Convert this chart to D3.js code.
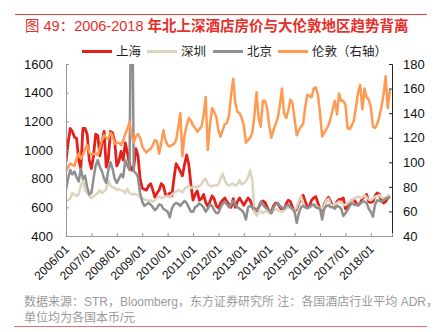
<!DOCTYPE html>
<html>
<head>
<meta charset="utf-8">
<script src="https://cdn.jsdelivr.net/npm/d3@7"></script>
<style>
  body { margin: 0; background: #fff; }
  text { font-family: "Liberation Sans", Arial, "Noto Sans CJK SC", sans-serif; }
</style>
</head>
<body>
<div id="chart"></div>
<script>
// monthly ADR, 2006/01 - 2018/10 (154 months)
var shanghai = [
  918, 1050, 1150, 1130, 1090, 1080, 930, 870, 1150, 1150, 1110, 930,
  870, 960, 1110, 1100, 960, 1050, 1130, 880, 940, 1130, 1120, 1060,
  890, 920, 990, 930, 1050, 980, 900, 860, 880, 1010, 960, 800,
  735, 725, 720, 750, 765, 720, 670, 700, 720, 765, 750, 690,
  680, 700, 680, 800, 905, 880, 850, 820, 900, 965, 900, 760,
  650, 690, 715, 650, 660, 690, 635, 605, 640, 680, 660, 610,
  595, 630, 650, 665, 640, 620, 600, 660, 600, 640, 665, 640,
  615, 640, 665, 650, 610, 575, 575, 600, 630, 645, 635, 600,
  575, 570, 610, 630, 630, 600, 585, 585, 625, 650, 640, 600,
  570, 590, 630, 660, 685, 640, 600, 610, 650, 665, 675, 630,
  590, 580, 620, 650, 670, 640, 605, 610, 640, 655, 655, 665,
  590, 600, 630, 650, 655, 630, 615, 630, 660, 680, 690, 640,
  635, 640, 680, 700, 690, 650, 630, 640, 665, 675
];
var shenzhen = [
  640, 650, 660, 700, 690, 680, 690, 750, 790, 720, 700, 680,
  665, 675, 690, 700, 720, 700, 710, 730, 790, 750, 740, 735,
  720, 725, 720, 715, 700, 730, 700, 690, 695, 690, 685, 670,
  665, 655, 650, 645, 650, 640, 650, 665, 675, 665, 670, 675,
  680, 670, 690, 700, 710, 720, 715, 705, 730, 740, 750, 735,
  740, 745, 740, 750, 760, 790, 800, 760, 750, 745, 755, 750,
  760, 800, 835, 790, 760, 750, 760, 765, 750, 760, 790, 760,
  770, 780, 810, 860, 790, 570, 540, 565, 575, 560, 570, 575,
  560, 555, 575, 590, 580, 575, 570, 580, 590, 600, 595, 585,
  580, 600, 640, 680, 630, 600, 590, 600, 610, 615, 620, 600,
  595, 590, 615, 650, 660, 620, 610, 620, 630, 640, 635, 620,
  615, 630, 640, 650, 660, 670, 675, 665, 670, 685, 670, 655,
  650, 660, 675, 680, 685, 670, 660, 670, 680, 690
];
var beijing = [
  720, 800, 860, 830, 850, 810, 780, 870, 800, 820, 740, 690,
  700, 800, 890, 930, 880, 850, 800, 770, 860, 915, 870, 800,
  770, 800, 830, 810, 930, 890, 860, 2600, 850, 840, 810, 700,
  640, 610, 620, 630, 620, 600, 580, 595, 620, 615, 590, 580,
  570, 530, 590, 620, 630, 625, 610, 630, 645, 630, 600, 570,
  570, 600, 610, 628, 615, 600, 570, 590, 620, 610, 580, 560,
  560, 600, 625, 640, 620, 600, 620, 645, 620, 600, 590, 580,
  560, 515, 600, 610, 600, 595, 580, 600, 640, 620, 600, 590,
  580, 560, 600, 620, 630, 610, 600, 590, 610, 620, 600, 590,
  570, 490, 560, 600, 610, 600, 595, 600, 615, 620, 600, 595,
  590, 515, 590, 610, 615, 600, 600, 590, 610, 605, 590, 540,
  560, 580, 610, 630, 620, 615, 620, 625, 640, 640, 630, 590,
  570, 535, 620, 650, 645, 640, 650, 660, 665, 675
];
// London, GBP, right axis
var london = [
  93, 96, 99, 98, 97, 103, 107, 103, 106, 111, 114, 108,
  106, 107, 107, 106, 112, 118, 122, 120, 119, 124, 122, 115,
  116, 116, 114, 118, 123, 127, 133, 122, 116, 121, 123, 120,
  113, 110, 108, 110, 111, 114, 118, 117, 107, 116, 126, 118,
  114, 113, 114, 115, 118, 128, 140, 105, 122, 130, 136, 134,
  130, 128, 125, 127, 129, 138, 153, 110, 130, 144, 141, 137,
  126, 121, 126, 131, 132, 138, 155, 168, 148, 141, 140, 136,
  130, 116, 118, 120, 124, 138, 157, 136, 129, 150, 150, 144,
  130, 120, 126, 131, 136, 146, 160, 140, 136, 142, 151, 148,
  135, 122, 126, 129, 131, 145, 155, 154, 153, 160, 161, 155,
  140, 121, 124, 127, 130, 136, 143, 150, 139, 156, 150, 150,
  147, 128, 127, 130, 134, 145, 157, 163, 143, 160, 153, 151,
  145, 129, 128, 131, 137, 145, 155, 170, 144, 159
];
var yearLabels = ["2006/01", "2007/01", "2008/01", "2009/01", "2010/01", "2011/01", "2012/01",
  "2013/01", "2014/01", "2015/01", "2016/01", "2017/01", "2018/01"];
var leftTicks = [400, 600, 800, 1000, 1200, 1400, 1600];
var rightTicks = [40, 60, 80, 100, 120, 140, 160, 180];

var W = 437, H = 332;
var plotL = 66, plotR = 392, plotT = 64, plotB = 236;

var svg = d3.select("#chart").append("svg")
  .attr("width", W)
  .attr("height", H);

var x = d3.scaleLinear().domain([0, 154]).range([plotL, plotR]);
var y = d3.scaleLinear().domain([400, 1600]).range([plotB, plotT]);
var y2 = d3.scaleLinear().domain([40, 180]).range([plotB, plotT]);

// title block
svg.append("line")
  .attr("x1", 15).attr("x2", 427).attr("y1", 14.5).attr("y2", 14.5)
  .attr("stroke", "#e8403a").attr("stroke-width", 1);

var title = svg.append("text")
  .attr("x", 25).attr("y", 31)
  .attr("fill", "#e5302b")
  .style("font-size", "14.5px");
title.append("tspan").text("图 49：2006-2018 ");
title.append("tspan").style("font-weight", "bold").text("年北上深酒店房价与大伦敦地区趋势背离");

// legend
var legendItems = [
  {name: "上海", color: "#e3201c", x: 82},
  {name: "深圳", color: "#ddd4bf", x: 147},
  {name: "北京", color: "#8f8f8f", x: 213},
  {name: "伦敦（右轴）", color: "#ff9a52", x: 278}
];
var lg = svg.append("g");
legendItems.forEach(function (d) {
  lg.append("line")
    .attr("x1", d.x).attr("x2", d.x + 30)
    .attr("y1", 51.5).attr("y2", 51.5)
    .attr("stroke", d.color).attr("stroke-width", 3);
  lg.append("text")
    .attr("x", d.x + 34).attr("y", 56)
    .style("font-size", "12.5px")
    .attr("fill", "#222")
    .text(d.name);
});

// clip so the Olympic spike stops at the top of the plot
svg.append("clipPath").attr("id", "plotclip")
  .append("rect")
  .attr("x", plotL).attr("y", plotT)
  .attr("width", plotR - plotL).attr("height", plotB - plotT);

var plot = svg.append("g").attr("clip-path", "url(#plotclip)");

function addLine(values, scale, color, width) {
  var line = d3.line()
    .x(function (d, i) { return x(i); })
    .y(function (d) { return scale(d); });
  plot.append("path")
    .datum(values)
    .attr("d", line)
    .attr("fill", "none")
    .attr("stroke", color)
    .attr("stroke-width", width)
    .attr("stroke-linejoin", "round");
}

addLine(shanghai, y, "#e3201c", 2.8);
addLine(shenzhen, y, "#ddd4bf", 2.5);
addLine(beijing, y, "#8f8f8f", 2.5);
addLine(london, y2, "#ff9a52", 2.5);

// axes
var axL = svg.append("g")
  .attr("transform", "translate(" + plotL + ",0)")
  .call(d3.axisLeft(y).tickValues(leftTicks).tickSize(-3).tickPadding(13).tickFormat(d3.format("d")));
axL.select(".domain").attr("stroke", "#999");
axL.selectAll(".tick line").attr("stroke", "#999");

var axR = svg.append("g")
  .attr("transform", "translate(" + plotR + ",0)")
  .call(d3.axisRight(y2).tickValues(rightTicks).tickSize(-3).tickPadding(11));
axR.select(".domain").attr("stroke", "#222");
axR.selectAll(".tick line").attr("stroke", "#222");

[axL, axR].forEach(function (a) {
  a.selectAll(".tick text")
    .style("font-size", "13px")
    .style("font-family", "'Liberation Sans', Arial, sans-serif")
    .attr("fill", "#111");
});

var yearIdx = yearLabels.map(function (d, i) { return i * 12; });
var axB = svg.append("g")
  .attr("transform", "translate(0," + plotB + ")")
  .call(d3.axisBottom(x).tickValues(yearIdx).tickSize(-3).tickFormat(""));
axB.select(".domain").attr("stroke", "#999");
axB.selectAll(".tick line").attr("stroke", "#999");

svg.append("g").selectAll("text")
  .data(yearLabels)
  .enter()
  .append("text")
  .attr("transform", function (d, i) {
    return "translate(" + (x(yearIdx[i]) + 4) + "," + (plotB + 14) + ") rotate(-45)";
  })
  .attr("text-anchor", "end")
  .style("font-size", "12px")
  .attr("fill", "#111")
  .text(function (d) { return d; });

// source note
svg.append("text")
  .attr("x", 24).attr("y", 306)
  .style("font-size", "12px")
  .attr("fill", "#9a9a9a")
  .text("数据来源：STR，Bloomberg，东方证券研究所 注：各国酒店行业平均 ADR，");
svg.append("text")
  .attr("x", 24).attr("y", 322)
  .style("font-size", "12px")
  .attr("fill", "#9a9a9a")
  .text("单位均为各国本币/元");

svg.append("line")
  .attr("x1", 14).attr("x2", 427).attr("y1", 326.5).attr("y2", 326.5)
  .attr("stroke", "#f07070").attr("stroke-width", 1);
</script>
</body>
</html>
